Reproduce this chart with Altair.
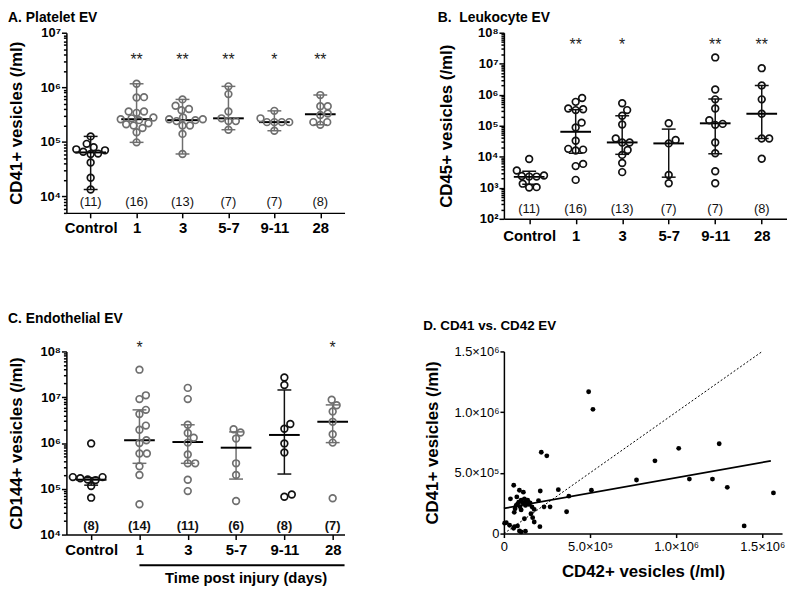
import math
import json
import altair as alt
import pandas as pd

FONT = "Liberation Sans, Arial, Helvetica, sans-serif"
GRAY = "#6f6f6f"
BLACK = "#111111"

CATS = ["Control", "1", "3", "5-7", "9-11", "28"]

# ---------------- Panel A : Platelet EV (CD41+) ----------------
A_GROUPS = [
    [1.26e5, 9.2e4, 8.0e4, 7.3e4, 7.0e4, 6.6e4, 6.1e4, 6.0e4, 4.2e4, 2.2e4, 1.34e4],
    [1.16e6, 6.6e5, 6.5e5, 3.6e5, 3.4e5, 3.6e5, 2.8e5, 2.6e5, 2.5e5, 2.7e5, 2.1e5, 2.0e5, 2.2e5, 1.8e5, 1.5e5, 9.8e4],
    [6.0e5, 4.6e5, 4.0e5, 3.8e5, 2.8e5, 2.6e5, 2.5e5, 2.4e5, 2.6e5, 2.0e5, 2.0e5, 1.4e5, 6.0e4],
    [1.04e6, 7.5e5, 3.6e5, 2.4e5, 2.4e5, 2.7e5, 1.67e5],
    [3.7e5, 2.7e5, 2.3e5, 2.3e5, 2.3e5, 2.3e5, 1.6e5],
    [7.2e5, 4.5e5, 4.5e5, 3.3e5, 3.1e5, 2.3e5, 2.05e5, 2.3e5],
]
A_MED = [6.4e4, 2.6e5, 2.5e5, 2.7e5, 2.3e5, 3.2e5]
A_LO = [1.34e4, 9.8e4, 6.0e4, 1.67e5, 1.6e5, 2.05e5]
A_HI = [1.26e5, 1.16e6, 6.0e5, 1.04e6, 3.7e5, 7.2e5]
A_COL = [BLACK, GRAY, GRAY, GRAY, GRAY, GRAY]
A_STARS = ["", "**", "**", "**", "*", "**"]
A_N = ["(11)", "(16)", "(13)", "(7)", "(7)", "(8)"]

# ---------------- Panel B : Leukocyte EV (CD45+) ----------------
B_GROUPS = [
    [8.5e3, 3.6e3, 2.3e3, 2.3e3, 2.5e3, 2.4e3, 1.36e3, 1.02e3, 1.05e3],
    [7.9e5, 5.9e5, 3.2e5, 3.4e5, 3.6e5, 1.26e5, 8.8e4, 3.3e4, 1.8e4, 1.7e4, 1.6e4, 5.9e3, 5.0e3, 1.8e3],
    [5.3e5, 3.2e5, 2.1e5, 1.1e5, 3.9e4, 2.9e4, 2.9e4, 1.66e4, 1.15e4, 6.3e3, 3.2e3],
    [1.2e5, 3.5e4, 2.7e4, 2.6e3, 1.4e3],
    [1.6e7, 1.48e6, 7.1e5, 3.6e5, 1.5e5, 1.07e5, 1.15e5, 2.9e4, 1.3e4, 3.4e3, 1.4e3],
    [7.2e6, 2.0e6, 7.1e5, 2.45e5, 3.9e4, 3.9e4, 8.6e3],
]
B_MED = [2.25e3, 6.4e4, 2.9e4, 2.7e4, 1.2e5, 2.45e5]
B_LO = [1.3e3, 1.3e4, 1.2e4, 2.2e3, 1.25e4, 3.9e4]
B_HI = [3.4e3, 3.3e5, 2.1e5, 7.8e4, 7.3e5, 2.0e6]
B_COL = [BLACK] * 6
B_STARS = ["", "**", "*", "", "**", "**"]
B_N = ["(11)", "(16)", "(13)", "(7)", "(7)", "(8)"]

# ---------------- Panel C : Endothelial EV (CD144+) ----------------
C_GROUPS = [
    [9.8e5, 1.8e5, 1.8e5, 1.7e5, 1.6e5, 1.55e5, 1.15e5, 6.4e4],
    [4.0e7, 1.1e7, 9.1e6, 5.3e6, 4.3e6, 2.4e6, 1.95e6, 1.15e6, 1.0e6, 5.9e5, 5.9e5, 3.1e5, 2.0e5, 4.6e4],
    [1.6e7, 9.1e6, 2.5e6, 1.66e6, 1.3e6, 1.02e6, 5.6e5, 3.6e5, 3.6e5, 1.58e5, 8.9e4],
    [2.0e6, 1.7e6, 1.25e6, 3.6e5, 2.0e5, 5.4e4],
    [2.7e7, 1.85e7, 2.6e6, 2.05e6, 9.8e5, 6.2e5, 6.7e4, 7.5e4],
    [8.8e6, 6.7e6, 4.9e6, 2.9e6, 1.55e6, 1.02e6, 6.2e4],
]
C_MED = [1.58e5, 1.15e6, 1.05e6, 7.9e5, 1.5e6, 2.9e6]
C_LO = [1.2e5, 3.6e5, 3.6e5, 1.63e5, 2.1e5, 1.02e6]
C_HI = [1.75e5, 5.3e6, 2.5e6, 1.75e6, 1.44e7, 6.8e6]
C_COL = [BLACK, GRAY, GRAY, GRAY, BLACK, GRAY]
C_STARS = ["", "*", "", "", "", "*"]
C_N = ["(8)", "(14)", "(11)", "(6)", "(8)", "(7)"]

# ---------------- Panel D : CD41 vs CD42 ----------------
D_X = [4.92e5, 5.17e5, 2.17e5, 2.49e5, 1.015e6, 8.77e5, 1.25e6, 7.7e5, 1.077e6, 1.211e6, 1.297e6,
       1.565e6, 1.395e6, 5.08e5, 3.16e5, 3.77e5, 3.64e5, 2.68e5, 2.33e5, 2.11e5, 2.01e5, 2.09e5,
       5.7e4, 9.0e4, 1.13e5, 7.5e4, 1.0e5, 1.19e5, 1.38e5, 8.6e4, 1.09e5, 1.52e5,
       7.1e4, 9.4e4, 1.25e5, 1.63e5, 1.45e5, 8.0e4, 1.28e5, 6.5e4, 1.76e5, 1.57e5,
       1.19e5, 1.67e5, 1.0e5, 6.0e4, 1.4e4, 3.3e4, 6.1e4, 7.9e4, 5.6e4, 9.0e4,
       1.25e5, 4e3, 1.0e5, 1.76e5, 3.8e4]
D_Y = [1.168e6, 1.023e6, 6.7e5, 6.4e5, 7.02e5, 5.99e5, 7.4e5, 4.41e5, 4.49e5, 4.49e5, 3.81e5,
       3.35e5, 6.3e4, 3.57e5, 3.62e5, 3.08e5, 1.8e5, 2.2e5, 2.2e5, 3.51e5, 2.72e5, 5.7e4,
       3.98e5, 3.57e5, 3.41e5, 3.02e5, 2.75e5, 2.86e5, 2.75e5, 2.59e5, 2.53e5, 2.53e5,
       2.32e5, 2.2e5, 2.32e5, 2.2e5, 2.4e5, 2.45e5, 2.62e5, 2.05e5, 1.99e5, 1.63e5,
       1.22e5, 1.31e5, 1.95e5, 1.75e5, 9.0e4, 6.9e4, 5.7e4, 6.3e4, 4.4e4, 2.2e4,
       2.0e4, 8.6e4, 1.4e4, 9.5e4, 2.86e5]
IDENT_X = [0, 1.5e6]
IDENT_Y = [0, 1.5e6]
REG_X = [0, 1.55e6]
REG_Y = [2.07e5, 5.99e5]
D_TICKS = [0, 5e5, 1e6, 1.5e6]
D_TICK_LABELS = ["0", "5.0×10⁵", "1.0×10⁶", "1.5×10⁶"]

SUP = ["⁰", "¹", "²", "³", "⁴", "⁵", "⁶", "⁷", "⁸", "⁹"]
MAJOR_TEST = "abs(log(datum.value)/LN10 - round(log(datum.value)/LN10)) < 0.001"
LOG_LABEL = (MAJOR_TEST + " ? '10' + " + json.dumps(SUP, ensure_ascii=False)
             + "[round(log(datum.value)/LN10)] : ''")


def swarm(vals, lo, hi, H, D=7.4):
    ys = [(math.log10(v) - lo) / (hi - lo) * H for v in vals]
    offs = [0.0] * len(vals)
    placed = []
    cands = [0.0]
    for k in range(1, 120):
        cands += [k * 0.5, -k * 0.5]
    for i in sorted(range(len(vals)), key=lambda j: ys[j]):
        y = ys[i]
        for c in cands:
            if all((c - px) ** 2 + (y - py) ** 2 >= D * D for px, py in placed):
                offs[i] = c
                break
        placed.append((offs[i], y))
    return offs


def dot_panel(groups, med, qlo, qhi, cols, stars, ns, ydom, W, H, pad, align,
              ytitle, ytpad, title, toff, star_y, n_y, n_weight, xlpad, xtitle=None, extra=None):
    lo, hi = math.log10(ydom[0]), math.log10(ydom[1])
    rows = []
    for c, vals, col in zip(CATS, groups, cols):
        for v, o in zip(vals, swarm(vals, lo, hi, H)):
            rows.append({"cat": c, "v": v, "off": o, "col": col})
    pts = pd.DataFrame(rows)
    summ = pd.DataFrame({"cat": CATS, "med": med, "lo": qlo, "hi": qhi, "wcol": cols})
    ann = pd.DataFrame({"cat": CATS, "star": stars, "n": ns})

    vals = [m * 10 ** k for k in range(math.floor(lo), math.ceil(hi) + 1) for m in range(1, 10)
            if ydom[0] * 0.999 <= m * 10 ** k <= ydom[1] * 1.001]
    ysc = alt.Scale(type="log", domain=ydom, nice=False)
    yaxis = alt.Axis(values=vals, labelExpr=LOG_LABEL,
                     tickSize={"condition": {"test": MAJOR_TEST, "value": 5}, "value": 3},
                     title=ytitle, titleFontSize=17, titleFontWeight="bold", titlePadding=ytpad,
                     labelFontSize=13, labelFontWeight="bold", labelPadding=1,
                     labelOverlap=False, grid=False)
    xaxis_kw = dict(labelFontSize=15, labelFontWeight="bold", labelAngle=0, labelPadding=xlpad,
                    tickSize=5, grid=False)
    if xtitle:
        xaxis = alt.Axis(title=xtitle, titleFontSize=15, titleFontWeight="bold", titlePadding=13,
                         titleX=181, titleAlign="center", **xaxis_kw)
    else:
        xaxis = alt.Axis(title=None, **xaxis_kw)
    xsc = alt.Scale(type="point", domain=CATS, padding=pad, align=align)

    def X():
        return alt.X("cat:N", scale=xsc, axis=xaxis)

    def Y(f):
        return alt.Y(f + ":Q", scale=ysc, axis=yaxis)

    whisk = alt.Chart(summ).mark_rule(strokeWidth=1.5, opacity=1).encode(
        x=X(), y=Y("lo"), y2="hi", color=alt.Color("wcol:N", scale=None))
    cap_lo = alt.Chart(summ).mark_tick(size=14, thickness=1.5, opacity=1).encode(
        x=X(), y=Y("lo"), color=alt.Color("wcol:N", scale=None))
    cap_hi = alt.Chart(summ).mark_tick(size=14, thickness=1.5, opacity=1).encode(
        x=X(), y=Y("hi"), color=alt.Color("wcol:N", scale=None))
    medt = alt.Chart(summ).mark_tick(size=31, thickness=2, opacity=1, color="#000").encode(
        x=X(), y=Y("med"))
    points = alt.Chart(pts).mark_point(shape="circle", filled=False, size=46, strokeWidth=1.7,
                                       opacity=1).encode(
        x=X(),
        xOffset=alt.XOffset("off:Q", scale=alt.Scale(domain=[-60, 60], range=[-60, 60])),
        y=Y("v"), color=alt.Color("col:N", scale=None))
    star_t = alt.Chart(ann).mark_text(fontSize=16, baseline="middle", dy=3, color="#222",
                                      font=FONT).encode(
        x=X(), y=alt.YDatum(star_y, type="quantitative", scale=ysc, axis=yaxis), text="star:N")
    n_t = alt.Chart(ann).mark_text(fontSize=13, baseline="middle", color="#111", font=FONT,
                                   fontWeight=n_weight).encode(
        x=X(), y=alt.YDatum(n_y, type="quantitative", scale=ysc, axis=yaxis), text="n:N")
    layers = [whisk, cap_lo, cap_hi, medt, points, star_t, n_t]
    if extra is not None:
        layers.append(extra(X, H, W))
    return alt.layer(*layers).properties(
        width=W, height=H,
        title=alt.TitleParams(text=title, anchor="start", frame="bounds", offset=toff,
                              fontSize=14, fontWeight="bold", font=FONT, color="#000"))


def time_bar(X, H, W):
    df = pd.DataFrame({"cat": ["1"]})
    return alt.Chart(df).mark_rule(strokeWidth=2, color="#000").encode(
        x=X(), x2=alt.value(W), y=alt.value(H + 31))


A = dot_panel(A_GROUPS, A_MED, A_LO, A_HI, A_COL, A_STARS, A_N, [5000, 1e7], 281, 182, 0.528, 0.5,
              "CD41+ vesicles (/ml)", 14, "A. Platelet EV", 2, 3.6e6, 8.0e3, "normal", 3)
B = dot_panel(B_GROUPS, B_MED, B_LO, B_HI, B_COL, B_STARS, B_N, [1e2, 1e8], 286, 188, 0.543, 0.5,
              "CD45+ vesicles (/ml)", 22, "B.\u00a0 Leukocyte EV", 2, 4.9e7, 2.0e2, "normal", 5)
C = dot_panel(C_GROUPS, C_MED, C_LO, C_HI, C_COL, C_STARS, C_N, [1e4, 1e8], 281, 185, 0.379, 0.676,
              "CD144+ vesicles (/ml)", 14, "C. Endothelial EV", 14, 1.4e8, 1.55e4, "bold", 3,
              xtitle="Time post injury (days)", extra=time_bar)

dpts = pd.DataFrame({"x": D_X, "y": D_Y})
ident = pd.DataFrame({"x": IDENT_X, "y": IDENT_Y})
reg = pd.DataFrame({"x": REG_X, "y": REG_Y})
D_EXPR = " : ".join(
    [f"datum.value == {v} ? '{l}'" for v, l in zip(D_TICKS[:-1], D_TICK_LABELS[:-1])]
) + f" : '{D_TICK_LABELS[-1]}'"
dxs = alt.Scale(domain=[0, 1.615e6], nice=False, zero=True)
dys = alt.Scale(domain=[0, 1.5e6], nice=False)
dxa = alt.Axis(values=D_TICKS, labelExpr=D_EXPR, title="CD42+ vesicles (/ml)", titleFontSize=17,
               titleFontWeight="bold", titlePadding=10, labelFontSize=13, tickSize=4,
               labelPadding=3, grid=False, labelFlush=False)
dya = alt.Axis(values=D_TICKS, labelExpr=D_EXPR, title="CD41+ vesicles (/ml)", titleFontSize=17,
               titleFontWeight="bold", titlePadding=13, labelFontSize=13, tickSize=4,
               labelPadding=1, grid=False, labelFlush=False)
d_pts = alt.Chart(dpts).mark_circle(size=24, color="#000", opacity=1).encode(
    x=alt.X("x:Q", scale=dxs, axis=dxa), y=alt.Y("y:Q", scale=dys, axis=dya))
d_id = alt.Chart(ident).mark_line(strokeWidth=1, strokeDash=[2, 2], color="#000").encode(
    x=alt.X("x:Q", scale=dxs, axis=dxa), y=alt.Y("y:Q", scale=dys, axis=dya))
d_reg = alt.Chart(reg).mark_line(strokeWidth=1.8, color="#000").encode(
    x=alt.X("x:Q", scale=dxs, axis=dxa), y=alt.Y("y:Q", scale=dys, axis=dya))
D = alt.layer(d_id, d_reg, d_pts).properties(
    width=281, height=184,
    title=alt.TitleParams(text="D. CD41 vs. CD42 EV", anchor="start", frame="bounds", offset=13,
                          fontSize=13.5, fontWeight="bold", font=FONT, color="#000"))

chart = alt.concat(A, B, C, D, columns=2, spacing={"row": 134, "column": 161},
                   bounds="flush", align="each", padding=0).configure(
    font=FONT
).configure_axis(
    domainColor="#000", domainWidth=1.5, tickColor="#000", tickWidth=1.5,
    labelColor="#000", titleColor="#000", labelFont=FONT, titleFont=FONT
).configure_view(strokeWidth=0)

chart.save("out.html", embed_options={"renderer": "svg", "actions": False})
